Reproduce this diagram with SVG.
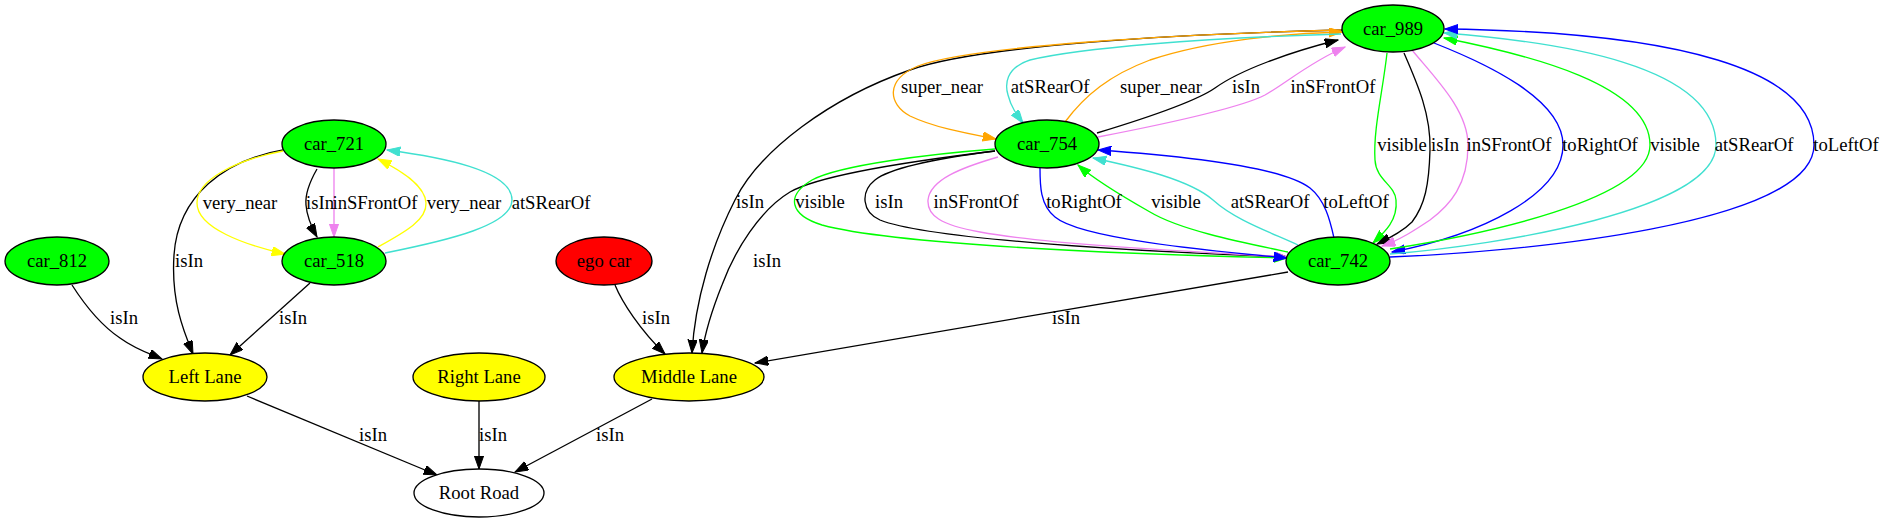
<svg xmlns="http://www.w3.org/2000/svg" width="1884" height="523" viewBox="0 0 1884 523">
<style>
.n ellipse{stroke:#000;stroke-width:1.33}
text{font-family:"Liberation Serif","Times New Roman",serif;font-size:18.67px;text-anchor:middle;fill:#000}
.e path{fill:none;stroke-width:1.33}
.k{stroke:#000;marker-end:url(#ak)}
.y{stroke:#ffff00;marker-end:url(#ay)}
.v{stroke:#ee82ee;marker-end:url(#av)}
.t{stroke:#40e0d0;marker-end:url(#at)}
.o{stroke:#ffa500;marker-end:url(#ao)}
.g{stroke:#00ff00;marker-end:url(#ag)}
.b{stroke:#0000ff;marker-end:url(#ab)}
</style>
<defs>
<marker id="ak" markerUnits="userSpaceOnUse" viewBox="0 0 14 10" markerWidth="14" markerHeight="10" refX="13.3" refY="4.7" orient="auto"><path d="M0,0 L13.3,4.7 L0,9.4 z" fill="#000" stroke="#000"/></marker>
<marker id="ay" markerUnits="userSpaceOnUse" viewBox="0 0 14 10" markerWidth="14" markerHeight="10" refX="13.3" refY="4.7" orient="auto"><path d="M0,0 L13.3,4.7 L0,9.4 z" fill="#ffff00" stroke="#ffff00"/></marker>
<marker id="av" markerUnits="userSpaceOnUse" viewBox="0 0 14 10" markerWidth="14" markerHeight="10" refX="13.3" refY="4.7" orient="auto"><path d="M0,0 L13.3,4.7 L0,9.4 z" fill="#ee82ee" stroke="#ee82ee"/></marker>
<marker id="at" markerUnits="userSpaceOnUse" viewBox="0 0 14 10" markerWidth="14" markerHeight="10" refX="13.3" refY="4.7" orient="auto"><path d="M0,0 L13.3,4.7 L0,9.4 z" fill="#40e0d0" stroke="#40e0d0"/></marker>
<marker id="ao" markerUnits="userSpaceOnUse" viewBox="0 0 14 10" markerWidth="14" markerHeight="10" refX="13.3" refY="4.7" orient="auto"><path d="M0,0 L13.3,4.7 L0,9.4 z" fill="#ffa500" stroke="#ffa500"/></marker>
<marker id="ag" markerUnits="userSpaceOnUse" viewBox="0 0 14 10" markerWidth="14" markerHeight="10" refX="13.3" refY="4.7" orient="auto"><path d="M0,0 L13.3,4.7 L0,9.4 z" fill="#00ff00" stroke="#00ff00"/></marker>
<marker id="ab" markerUnits="userSpaceOnUse" viewBox="0 0 14 10" markerWidth="14" markerHeight="10" refX="13.3" refY="4.7" orient="auto"><path d="M0,0 L13.3,4.7 L0,9.4 z" fill="#0000ff" stroke="#0000ff"/></marker>
</defs>
<rect width="1884" height="523" fill="#fff"/>
<g id="edges" class="e">
<path class="k" d="M283,150 C225,160 178,195 174,255 C171,300 183,330 193,354"/>
<path class="y" d="M283,151 C235,160 197,180 197,203 C197,228 245,245 285,254"/>
<path class="k" d="M317,169 C309,183 305,195 306,205 C307,218 312,228 317,237"/>
<path class="v" d="M334,168 L334,237"/>
<path class="y" d="M378,247 C405,232 427,220 426,203 C425,185 400,170 378,159"/>
<path class="t" d="M385,253 C450,240 512,225 512,200 C512,170 440,157 387,150"/>
<path class="k" d="M72,285 C88,310 105,328 120,338 C135,349 150,354 162,359"/>
<path class="k" d="M310,283 L230,355"/>
<path class="k" d="M615,285 C622,302 640,330 665,354"/>
<path class="k" d="M1342,30 C1180,34 980,45 910,70 C830,98 760,150 735,200 C712,245 695,300 692,353"/>
<path class="k" d="M995,151 C920,160 820,175 790,192 C760,210 735,250 722,285 C712,310 705,333 702,353"/>
<path class="k" d="M1288,272 L755,363"/>
<path class="k" d="M247,396 L437,475"/>
<path class="k" d="M479,401 L479,469"/>
<path class="k" d="M652,399 L515,472"/>
<path class="o" d="M1341,30 C1180,34 970,46 918,66 C885,80 888,104 910,116 C935,128 970,134 996,139"/>
<path class="o" d="M1065,122 C1085,95 1110,75 1150,60 C1210,40 1290,33 1342,32"/>
<path class="t" d="M1341,34 C1200,38 1080,48 1030,60 C1005,68 1005,85 1008,95 C1011,107 1017,115 1023,123"/>
<path class="k" d="M1097,133 C1140,120 1195,102 1215,88 C1240,70 1290,52 1338,40"/>
<path class="v" d="M1098,137 C1160,125 1240,108 1265,95 C1285,84 1310,62 1345,47"/>
<path class="g" d="M995,149 C930,154 840,165 812,180 C785,196 790,215 822,225 C900,246 1150,255 1287,258"/>
<path class="k" d="M995,151 C940,158 890,168 875,180 C860,192 862,212 880,220 C930,240 1150,252 1287,257"/>
<path class="v" d="M998,157 C960,168 930,180 928,200 C927,215 940,225 980,232 C1050,245 1200,252 1287,257"/>
<path class="b" d="M1040,168 C1040,185 1040,205 1055,217 C1080,238 1200,250 1287,258"/>
<path class="g" d="M1288,252 C1240,242 1180,230 1150,212 C1120,195 1095,180 1078,165"/>
<path class="t" d="M1298,245 C1270,232 1235,220 1213,200 C1190,180 1140,168 1093,158"/>
<path class="b" d="M1334,238 C1330,220 1325,200 1310,188 C1280,165 1170,155 1098,150"/>
<path class="g" d="M1387,53 C1383,90 1373,130 1375,160 C1376,180 1395,185 1396,200 C1398,220 1385,232 1373,243"/>
<path class="k" d="M1404,53 C1418,85 1431,115 1430,150 C1429,185 1425,205 1412,222 C1402,232 1390,238 1377,244"/>
<path class="v" d="M1412,50 C1435,78 1468,110 1468,145 C1468,185 1450,205 1430,220 C1415,230 1400,240 1382,246"/>
<path class="b" d="M1434,43 C1490,65 1563,100 1563,145 C1563,195 1480,235 1392,252"/>
<path class="g" d="M1390,249 C1480,235 1650,200 1650,145 C1650,85 1530,55 1444,38"/>
<path class="t" d="M1390,254 C1500,245 1716,210 1716,145 C1716,65 1560,42 1444,33"/>
<path class="b" d="M1390,257 C1520,252 1814,225 1814,145 C1814,70 1680,32 1445,29"/>
<text x="189" y="267">isIn</text>
<text x="240" y="209">very_near</text>
<text x="320" y="209">isIn</text>
<text x="375" y="209">inSFrontOf</text>
<text x="464" y="209">very_near</text>
<text x="551" y="209">atSRearOf</text>
<text x="124" y="324">isIn</text>
<text x="293" y="324">isIn</text>
<text x="656" y="324">isIn</text>
<text x="750" y="208">isIn</text>
<text x="767" y="267">isIn</text>
<text x="1066" y="324">isIn</text>
<text x="373" y="441">isIn</text>
<text x="493" y="441">isIn</text>
<text x="610" y="441">isIn</text>
<text x="942" y="93">super_near</text>
<text x="1050" y="93">atSRearOf</text>
<text x="1161" y="93">super_near</text>
<text x="1246" y="93">isIn</text>
<text x="1333" y="93">inSFrontOf</text>
<text x="820" y="208">visible</text>
<text x="889" y="208">isIn</text>
<text x="976" y="208">inSFrontOf</text>
<text x="1084" y="208">toRightOf</text>
<text x="1176" y="208">visible</text>
<text x="1270" y="208">atSRearOf</text>
<text x="1356" y="208">toLeftOf</text>
<text x="1402" y="151">visible</text>
<text x="1445" y="151">isIn</text>
<text x="1509" y="151">inSFrontOf</text>
<text x="1600" y="151">toRightOf</text>
<text x="1675" y="151">visible</text>
<text x="1754" y="151">atSRearOf</text>
<text x="1846" y="151">toLeftOf</text>
</g>
<g id="car_989" class="n"><ellipse cx="1393" cy="28.5" rx="51" ry="23.5" fill="#00ff00"/><text x="1393" y="34.5">car_989</text></g>
<g id="car_721" class="n"><ellipse cx="334" cy="144" rx="52" ry="24" fill="#00ff00"/><text x="334" y="150">car_721</text></g>
<g id="car_754" class="n"><ellipse cx="1047" cy="144" rx="52" ry="24" fill="#00ff00"/><text x="1047" y="150">car_754</text></g>
<g id="car_812" class="n"><ellipse cx="57" cy="261" rx="52" ry="24" fill="#00ff00"/><text x="57" y="267">car_812</text></g>
<g id="car_518" class="n"><ellipse cx="334" cy="261" rx="52" ry="24" fill="#00ff00"/><text x="334" y="267">car_518</text></g>
<g id="ego_car" class="n"><ellipse cx="604" cy="261" rx="48" ry="24" fill="#ff0000"/><text x="604" y="267">ego car</text></g>
<g id="car_742" class="n"><ellipse cx="1338" cy="261" rx="52" ry="24" fill="#00ff00"/><text x="1338" y="267">car_742</text></g>
<g id="left_lane" class="n"><ellipse cx="205" cy="377" rx="62" ry="24" fill="#ffff00"/><text x="205" y="383">Left Lane</text></g>
<g id="right_lane" class="n"><ellipse cx="479" cy="377" rx="66" ry="24" fill="#ffff00"/><text x="479" y="383">Right Lane</text></g>
<g id="middle_lane" class="n"><ellipse cx="689" cy="377" rx="75" ry="24" fill="#ffff00"/><text x="689" y="383">Middle Lane</text></g>
<g id="root_road" class="n"><ellipse cx="479" cy="493" rx="65" ry="24" fill="#fff"/><text x="479" y="499">Root Road</text></g>
</svg>
